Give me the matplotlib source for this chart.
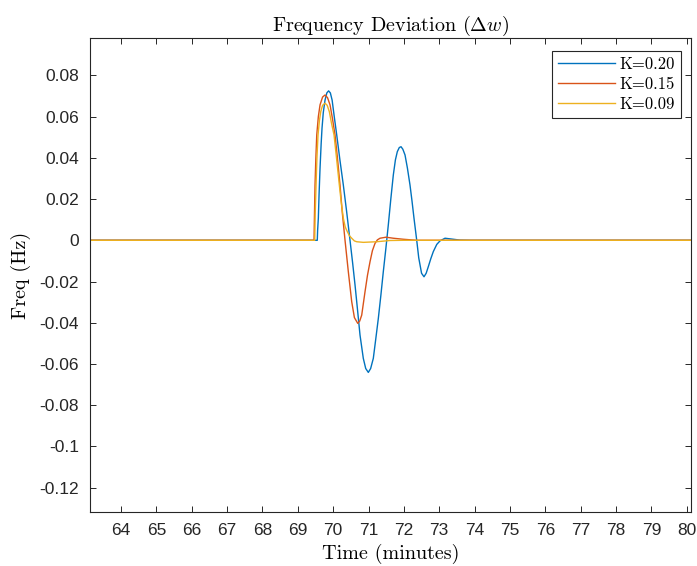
import matplotlib
matplotlib.use("Agg")
import matplotlib.pyplot as plt

plt.rcParams['mathtext.fontset'] = 'cm'

# ---- data ----
t_k20 = [60.0, 69.55, 69.56, 69.58, 69.60, 69.628, 69.66, 69.684, 69.72, 69.769, 69.82,
         69.87, 69.92, 69.97, 70.03, 70.10, 70.19, 70.287, 70.38, 70.476, 70.55, 70.618,
         70.69, 70.759, 70.852, 70.92, 70.994, 71.06, 71.135, 71.20, 71.277, 71.35, 71.418,
         71.49, 71.559, 71.63, 71.701, 71.76, 71.814, 71.87, 71.919, 71.97, 72.032, 72.10,
         72.173, 72.23, 72.286, 72.363, 72.42, 72.50, 72.569, 72.63, 72.691, 72.76, 72.832,
         72.93, 73.021, 73.163, 73.352, 73.587, 73.87, 82.0]
y_k20 = [0.0, 0.0, 0.0050, 0.0107, 0.0220, 0.0350, 0.0470, 0.0544, 0.0620, 0.0680, 0.0715,
         0.0725, 0.0715, 0.0680, 0.0600, 0.0511, 0.0390, 0.0268, 0.0140, 0.0, -0.0110, -0.0217,
         -0.0340, -0.0460, -0.0573, -0.0622, -0.0641, -0.0622, -0.0573, -0.0485, -0.0379, -0.0265, -0.0152,
         -0.0040, 0.0074, 0.0200, 0.0317, 0.0390, 0.0430, 0.0450, 0.0454, 0.0442, 0.0414, 0.0350,
         0.0268, 0.0190, 0.0107, 0.0, -0.0085, -0.0160, -0.0177, -0.0160, -0.0128, -0.0090, -0.0055,
         -0.0020, -0.0003, 0.0010, 0.0006, 0.0001, 0.0, 0.0]

t_k15 = [60.0, 69.458, 69.47, 69.486, 69.51, 69.535, 69.58, 69.628, 69.70, 69.769, 69.84,
         69.911, 69.98, 70.052, 70.12, 70.193, 70.26, 70.335, 70.428, 70.524, 70.60, 70.694,
         70.75, 70.807, 70.900, 70.97, 71.042, 71.11, 71.183, 71.25, 71.325, 71.494, 71.701,
         71.984, 72.363, 82.0]
y_k15 = [0.0, 0.0, 0.0120, 0.0268, 0.0400, 0.0511, 0.0600, 0.0657, 0.0695, 0.0705, 0.0692,
         0.0657, 0.0590, 0.0511, 0.0400, 0.0268, 0.0130, 0.0, -0.0152, -0.0298, -0.0375, -0.0403,
         -0.0392, -0.0363, -0.0250, -0.0170, -0.0104, -0.0050, -0.0015, 0.0002, 0.0010, 0.0015, 0.0010,
         0.0005, 0.0, 0.0]

t_k09 = [60.0, 69.478, 69.49, 69.515, 69.54, 69.571, 69.61, 69.648, 69.70, 69.769, 69.83,
         69.891, 69.95, 70.024, 70.10, 70.174, 70.23, 70.287, 70.34, 70.400, 70.46, 70.524,
         70.60, 70.666, 70.852, 71.231, 71.607, 71.984, 82.0]
y_k09 = [0.0, 0.0, 0.0120, 0.0268, 0.0400, 0.0511, 0.0580, 0.0624, 0.0655, 0.0665, 0.0655,
         0.0624, 0.0570, 0.0511, 0.0390, 0.0268, 0.0180, 0.0107, 0.0065, 0.0042, 0.0022, 0.0010,
         -0.0003, -0.0007, -0.0010, -0.0007, -0.0001, 0.0, 0.0]

labels = ['K=0.20', 'K=0.15', 'K=0.09']
colors = ['#0072BD', '#D95319', '#EDB120']

xticks = list(range(64, 81))
yticks = [-0.12, -0.10, -0.08, -0.06, -0.04, -0.02, 0.0, 0.02, 0.04, 0.06, 0.08]
ytick_labels = ['-0.12', '-0.1', '-0.08', '-0.06', '-0.04', '-0.02', '0',
                '0.02', '0.04', '0.06', '0.08']

# ---- figure ----
fig = plt.figure(figsize=(6.97, 5.66), dpi=100)
ax = fig.add_axes([0.1296, 0.0948, 0.8622, 0.8386])

for t, y, lab, c in zip([t_k20, t_k15, t_k09], [y_k20, y_k15, y_k09], labels, colors):
    ax.plot(t, y, color=c, lw=1.0, label=lab)

ax.set_xlim(63.13, 80.13)
ax.set_ylim(-0.132, 0.0983)
ax.set_xticks(xticks)
ax.set_xticklabels([str(v) for v in xticks])
ax.set_yticks(yticks)
ax.set_yticklabels(ytick_labels)

axcol = '#262626'
for s in ax.spines.values():
    s.set_color(axcol)
    s.set_linewidth(0.8)
ax.tick_params(direction='in', length=4, width=0.7, colors=axcol,
               top=True, right=True, labelsize=12.5, pad=8)
for lab in ax.get_xticklabels() + ax.get_yticklabels():
    lab.set_fontfamily('Liberation Sans')

ax.set_title(r'Frequency Deviation ($\Delta w$)', fontfamily='cmr10', fontsize=14.5,
             color='black', pad=5)
ax.set_xlabel('Time (minutes)', fontfamily='cmr10', fontsize=14.5, labelpad=4)
ax.set_ylabel('Freq (Hz)', fontfamily='cmr10', fontsize=14.5, labelpad=6)

leg = ax.legend(loc='upper right', bbox_to_anchor=(0.983, 0.973),
                prop={'family': 'cmr10', 'size': 12},
                frameon=True, fancybox=False, edgecolor=axcol, framealpha=1,
                handlelength=3.4, handletextpad=0.3, labelspacing=0.3, borderpad=0.35,
                borderaxespad=0)
leg.get_frame().set_linewidth(0.8)

fig.savefig('out.png', dpi=100, facecolor='white')
